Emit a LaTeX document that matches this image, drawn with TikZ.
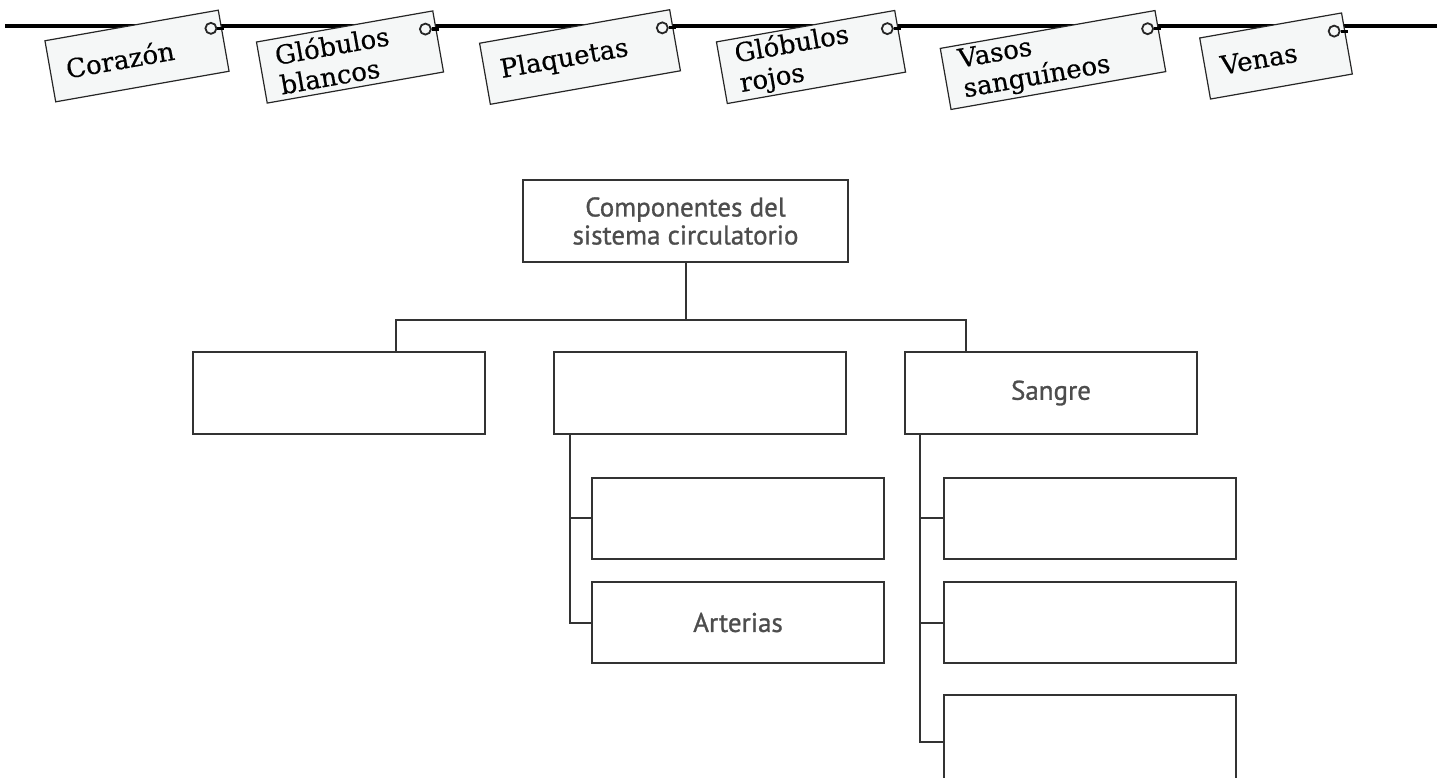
\documentclass[tikz,border=0pt]{standalone}
\usepackage{fontspec}
\newfontfamily\tagfont[FakeBold=0.4]{DejaVu Serif}
\newfontfamily\boxfont[FakeBold=1]{PT Sans}
\usetikzlibrary{calc,backgrounds}
\definecolor{tagfill}{HTML}{F5F7F7}
\definecolor{boxline}{HTML}{333333}
\definecolor{boxtext}{HTML}{4D4D4D}

\begin{document}
\begin{tikzpicture}[x=0.5pt, y=-0.5pt,
		cord/.style={line width=1.6pt, black},
		tagcard/.style={draw=black!85, line width=0.6pt, fill=tagfill, rotate=10, minimum height=31pt, inner xsep=8pt, inner ysep=1.5pt, align=left, font=\tagfont\fontsize{13}{15}\selectfont},
		hole/.style={circle, draw=black!85, line width=0.9pt, fill=tagfill, minimum size=5.5pt, inner sep=0pt},
		box/.style={draw=boxline, line width=1pt, minimum width=146pt, minimum height=40.5pt, text=boxtext, align=center, font=\boxfont\fontsize{13.5}{14}\selectfont},
		link/.style={draw=boxline, line width=1pt}]
	
		\useasboundingbox (0,0) rectangle (1443,777);
	
		% word tags on the cord
		\foreach \x/\y/\w/\txt [count=\i] in {137/56/72pt/Corazón, 350/57/73.5pt/{Glóbulos\\blancos}, 580/57/80.5pt/Plaquetas, 811/57/74.5pt/{Glóbulos\\rojos}, 1053/60/93pt/{Vasos\\sanguíneos}, 1276/56/56pt/Venas}{
			\node[tagcard, text width=\w] (t\i) at (\x,\y) {\txt};
			\node[hole] (h\i) at ($(t\i.north east)!5.5pt!(t\i.north west)!8.6pt!90:(t\i.north west)$) {};
		}
	
		\coordinate (ls) at (5,26);
		\coordinate (le) at (1437,26);
		\begin{scope}[on background layer]
			\draw[cord] (ls) -- (le);
		\end{scope}
		\foreach \i in {1,...,6}
			\draw[cord] (h\i.east) -- (h\i.center -| t\i.east);
	
		% tree
		\node[box, minimum width=162.5pt, minimum height=41pt] (comp) at (685.5,221) {Componentes del\\sistema circulatorio};
	
		\node[box, minimum height=41pt] (corazon) at (338.5,393) {};
		\node[box, minimum height=41pt] (vasos) at (699.5,393) {};
		\node[box, minimum height=41pt] (sangre) at (1051,393) {Sangre};
	
		\node[box] (vasoA) at (738,518) {};
		\node[box] (arterias) at (738,622.5) {Arterias};
	
		\node[box] (sangreA) at (1090,518) {};
		\node[box] (sangreB) at (1090,622.5) {};
		\node[box, minimum height=47pt] (sangreC) at (1090,742) {};
	
		\coordinate (ja) at (396,320);
		\coordinate (jc) at (966,320);
		\draw[link] (comp.south) -- (comp.south |- ja);
		\draw[link] (corazon.north -| ja) -- (ja) -- (jc) -- (jc |- sangre.north);
	
		\coordinate (bv) at (570,434);
		\draw[link] (bv) |- (vasoA.west);
		\draw[link] (bv) |- (arterias.west);
	
		\coordinate (cv) at (920,434);
		\draw[link] (cv) |- (sangreA.west);
		\draw[link] (cv) |- (sangreB.west);
		\draw[link] (cv) |- (sangreC.west);
	
\end{tikzpicture}
\end{document}
